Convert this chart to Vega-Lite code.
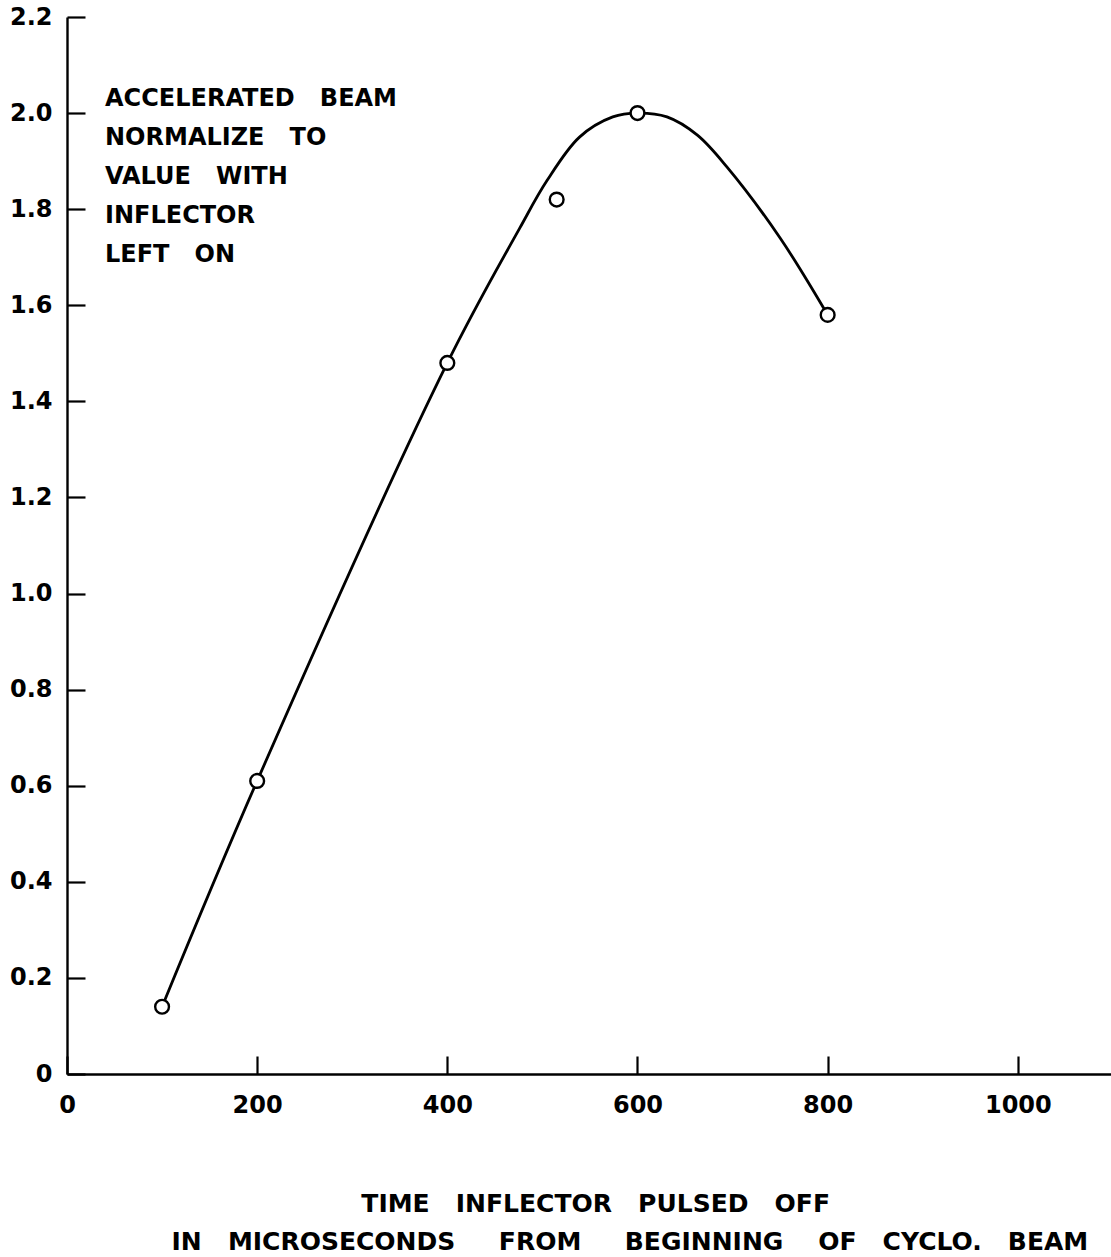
{
  "$schema": "https://vega.github.io/schema/vega-lite/v6.json",
  "width": 1044,
  "height": 1057,
  "autosize": {"type": "none"},
  "padding": {"left": 67, "top": 17, "right": 0, "bottom": 183},
  "background": "white",
  "config": {
    "view": {"stroke": null},
    "font": "DejaVu Sans",
    "axis": {
      "grid": false,
      "domainColor": "black",
      "domainWidth": 2.4,
      "tickColor": "black",
      "tickWidth": 2.2,
      "tickSize": -18,
      "labelColor": "black",
      "labelFont": "DejaVu Sans",
      "labelFontSize": 24,
      "labelFontWeight": "bold",
      "labelFlush": false,
      "title": null
    }
  },
  "datasets": {
    "points": [
      {"time": 100, "beam": 0.14},
      {"time": 200, "beam": 0.61},
      {"time": 400, "beam": 1.48},
      {"time": 515, "beam": 1.82},
      {"time": 600, "beam": 2.0},
      {"time": 800, "beam": 1.58}
    ],
    "curve": [
      {"time": 100, "beam": 0.14},
      {"time": 200, "beam": 0.61},
      {"time": 400, "beam": 1.48},
      {"time": 476, "beam": 1.76},
      {"time": 505, "beam": 1.86},
      {"time": 539, "beam": 1.95},
      {"time": 574, "beam": 1.992},
      {"time": 600, "beam": 2.0},
      {"time": 631, "beam": 1.992},
      {"time": 663, "beam": 1.954},
      {"time": 694, "beam": 1.888},
      {"time": 750, "beam": 1.74},
      {"time": 800, "beam": 1.58}
    ]
  },
  "layer": [
    {
      "data": {"name": "curve"},
      "mark": {"type": "line", "color": "black", "strokeWidth": 2.8, "interpolate": "catmull-rom"},
      "encoding": {
        "x": {
          "field": "time", "type": "quantitative",
          "scale": {"domain": [0, 1098], "nice": false, "zero": false},
          "axis": {"values": [0, 200, 400, 600, 800, 1000], "labelPadding": 37, "labelExpr": "datum.value == 0 ? '0' : format(datum.value, 'd')"}
        },
        "y": {
          "field": "beam", "type": "quantitative",
          "scale": {"domain": [0, 2.2], "nice": false},
          "axis": {"values": [0, 0.2, 0.4, 0.6, 0.8, 1.0, 1.2, 1.4, 1.6, 1.8, 2.0, 2.2], "labelPadding": 33, "labelExpr": "datum.value == 0 ? '0' : format(datum.value, '.1f')"}
        }
      }
    },
    {
      "data": {"name": "points"},
      "mark": {"type": "point", "shape": "circle", "filled": true, "fill": "white", "stroke": "black", "strokeWidth": 2.4, "size": 190, "opacity": 1},
      "encoding": {
        "x": {"field": "time", "type": "quantitative"},
        "y": {"field": "beam", "type": "quantitative"}
      }
    },
    {
      "data": {"values": [{"label": "annotation"}]},
      "mark": {"type": "text", "align": "left", "baseline": "alphabetic", "fontSize": 24, "fontWeight": "bold", "lineHeight": 39, "color": "black",
        "text": ["ACCELERATED\u00a0\u00a0\u00a0BEAM", "NORMALIZE\u00a0\u00a0\u00a0TO", "VALUE\u00a0\u00a0\u00a0WITH", "INFLECTOR", "LEFT\u00a0\u00a0\u00a0ON"]},
      "encoding": {
        "x": {"datum": 40},
        "y": {"datum": 2.015}
      }
    },
    {
      "data": {"values": [{"label": "title1"}]},
      "mark": {"type": "text", "align": "center", "baseline": "alphabetic", "fontSize": 25, "fontWeight": "bold", "color": "black", "text": "TIME\u00a0\u00a0\u00a0INFLECTOR\u00a0\u00a0\u00a0PULSED\u00a0\u00a0\u00a0OFF"},
      "encoding": {
        "x": {"datum": 556},
        "y": {"datum": -0.287}
      }
    },
    {
      "data": {"values": [{"label": "title2"}]},
      "mark": {"type": "text", "align": "center", "baseline": "alphabetic", "fontSize": 25, "fontWeight": "bold", "color": "black", "text": "IN\u00a0\u00a0\u00a0MICROSECONDS\u00a0\u00a0\u00a0\u00a0\u00a0FROM\u00a0\u00a0\u00a0\u00a0\u00a0BEGINNING\u00a0\u00a0\u00a0\u00a0OF\u00a0\u00a0\u00a0CYCLO.\u00a0\u00a0\u00a0BEAM"},
      "encoding": {
        "x": {"datum": 592},
        "y": {"datum": -0.366}
      }
    }
  ]
}
